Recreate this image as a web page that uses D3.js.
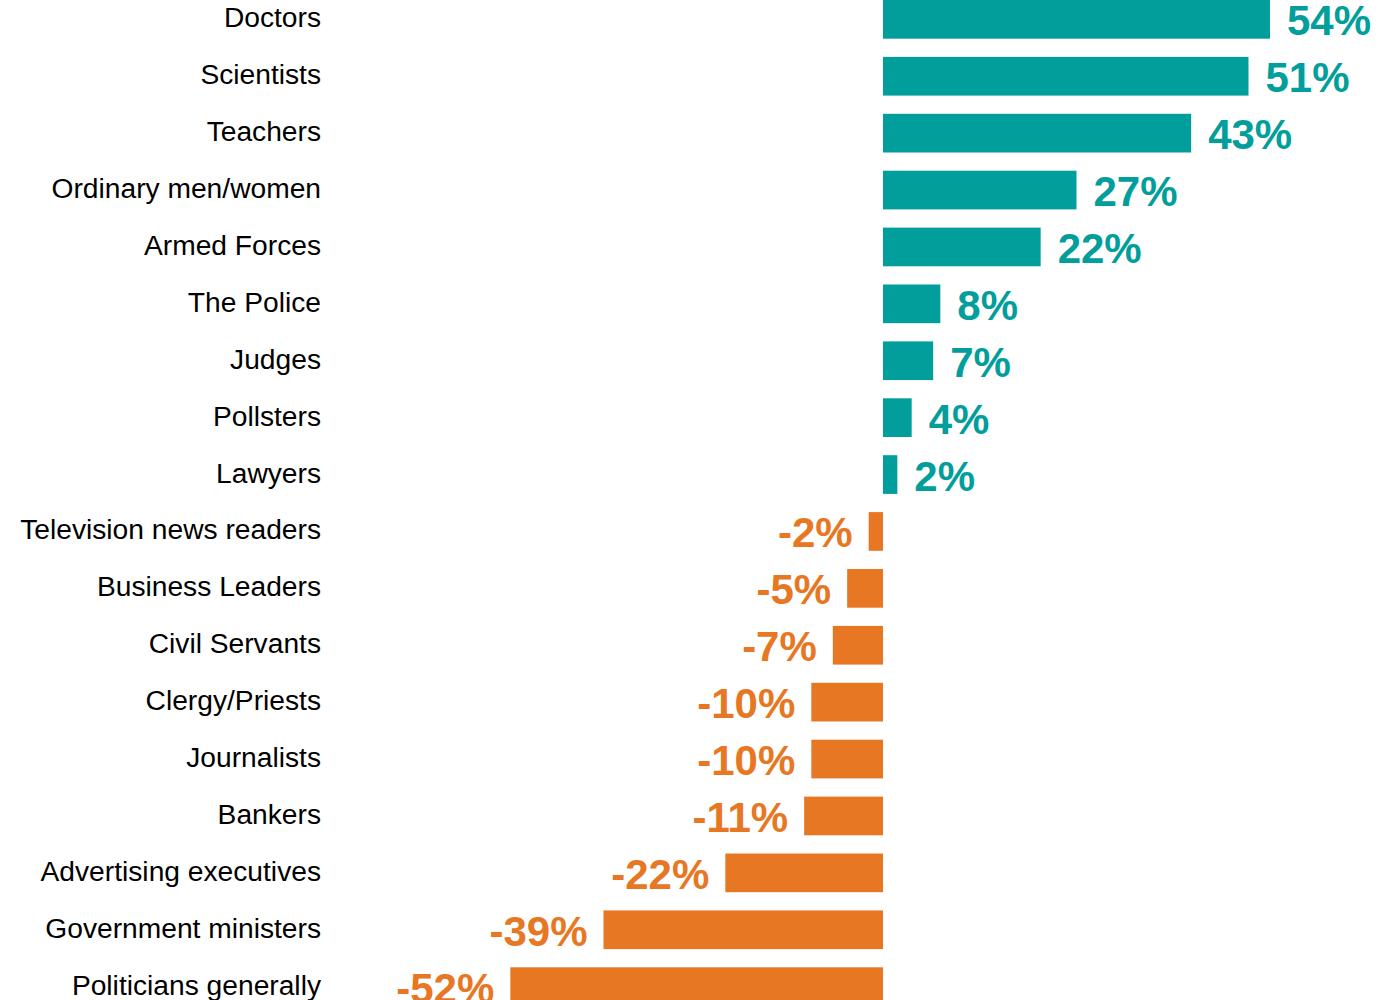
<!DOCTYPE html>
<html>
<head>
<meta charset="utf-8">
<script src="https://cdn.jsdelivr.net/npm/d3@7"></script>
<style>
  body { margin: 0; background: #fff; }
  svg { display: block; }
</style>
</head>
<body>
<div id="chart"></div>
<script>
const categories = [
    'Doctors', 'Scientists', 'Teachers', 'Ordinary men/women', 'Armed Forces',
    'The Police', 'Judges', 'Pollsters', 'Lawyers', 'Television news readers',
    'Business Leaders', 'Civil Servants', 'Clergy/Priests', 'Journalists',
    'Bankers', 'Advertising executives', 'Government ministers', 'Politicians generally',
];
const netTrust = [54, 51, 43, 27, 22, 8, 7, 4, 2, -2, -5, -7, -10, -10, -11, -22, -39, -52];

const width = 1396;
const height = 1000;
const teal = '#029e9b';
const orange = '#e77722';

const data = categories.map((c, i) => ({ name: c, value: netTrust[i] }));

const svg = d3.select('#chart').append('svg')
    .attr('width', width)
    .attr('height', height);

const x = d3.scaleLinear().domain([-60, 60]).range([453, 1313]);
const y = d3.scaleBand()
    .domain(categories)
    .range([0, 1006])
    .paddingInner(0.32)
    .paddingOuter(0)
    .align(0);

// bars
svg.append('g')
    .selectAll('rect')
    .data(data)
    .join('rect')
    .attr('x', d => x(Math.min(0, d.value)))
    .attr('y', d => y(d.name))
    .attr('width', d => Math.abs(x(d.value) - x(0)))
    .attr('height', y.bandwidth())
    .attr('fill', d => (d.value >= 0 ? teal : orange));

// category labels
svg.append('g')
    .selectAll('text')
    .data(data)
    .join('text')
    .attr('x', 321)
    .attr('y', d => y(d.name) + y.bandwidth() / 2 + 8)
    .attr('text-anchor', 'end')
    .attr('font-family', 'Liberation Sans, Arial, sans-serif')
    .attr('font-size', 28.2)
    .attr('fill', '#000')
    .text(d => d.name);

// value labels
svg.append('g')
    .selectAll('text')
    .data(data)
    .join('text')
    .attr('x', d => (d.value >= 0 ? x(d.value) + 17 : x(d.value) - 16))
    .attr('y', d => y(d.name) + y.bandwidth() / 2 + 16)
    .attr('text-anchor', d => (d.value >= 0 ? 'start' : 'end'))
    .attr('font-family', 'Liberation Sans, Arial, sans-serif')
    .attr('font-weight', 'bold')
    .attr('font-size', 42)
    .attr('fill', d => (d.value >= 0 ? teal : orange))
    .text(d => `${d.value}%`);
</script>
</body>
</html>
